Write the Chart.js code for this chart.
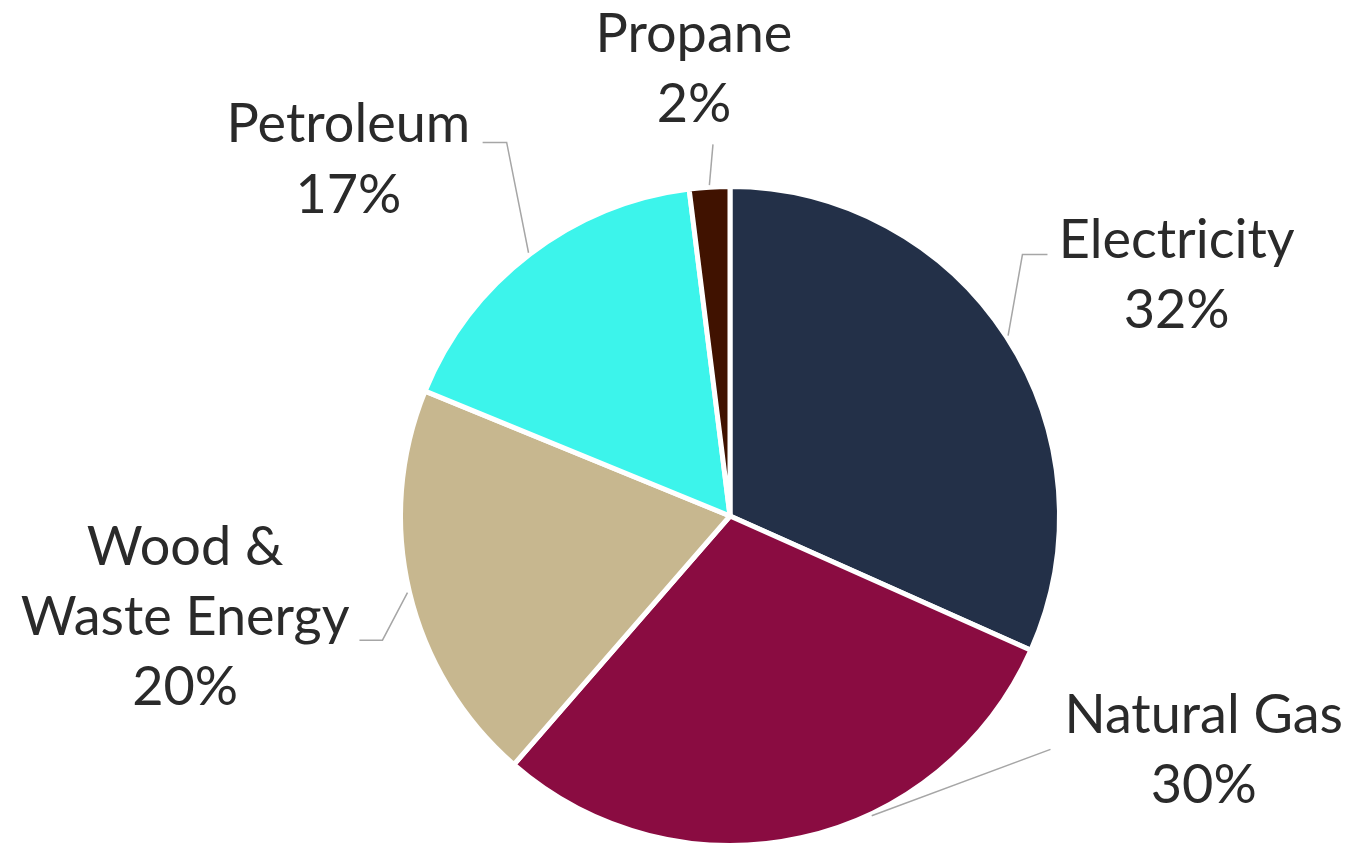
<!DOCTYPE html>
<html>
<head>
<meta charset="utf-8">
<script src="https://cdn.jsdelivr.net/npm/chart.js@4/dist/chart.umd.min.js"></script>
<style>
  html, body { margin: 0; padding: 0; background: #ffffff; }
  #wrap { width: 1358px; height: 850px; position: relative; }
</style>
</head>
<body>
<div id="wrap"><canvas id="pie"></canvas></div>
<script>
// Energy sources and their shares (percent)
const categories = ['Electricity', 'Natural Gas', 'Wood & Waste Energy', 'Petroleum', 'Propane'];
const shares = [32, 30, 20, 17, 2];
const sliceColors = ['#233048', '#8A0C41', '#C7B78F', '#3CF4EB', '#401200'];

// Label text lines for each slice (name split across lines + percent)
const labelLines = [
  ['Electricity'],
  ['Natural Gas'],
  ['Wood &', 'Waste Energy'],
  ['Petroleum'],
  ['Propane']
];

// Label placement relative to the pie centre, in pixels for a radius of 329.
// x: centre of the text block, y: baseline of the first line.
// leader: elbow points from the label towards the slice; at: fraction along the arc where the leader meets it.
const labelLayout = [
  { x: 446,  y: -258, leader: [[317, -261], [292, -261]], at: 0.5 },
  { x: 473,  y: 217,  leader: [[320, 233]], at: 0.38 },
  { x: -544, y: 49,   leader: [[-370, 124], [-347, 124]], at: 0.5 },
  { x: -381, y: -373, leader: [[-247, -373], [-223, -373]], at: 0.5 },
  { x: -36,  y: -463, leader: [[-17, -371]], at: 0.5 }
];

const FONT = '"Lato", "Open Sans", sans-serif';
const FONT_SIZE = 54;
const LINE_H = 70;

const calloutPlugin = {
  id: 'callouts',
  afterDatasetsDraw(chart) {
    const ctx = chart.ctx;
    const meta = chart.getDatasetMeta(0);
    ctx.save();
    meta.data.forEach((arc, i) => {
      const p = arc.getProps(['x', 'y', 'startAngle', 'endAngle', 'outerRadius'], true);
      const k = p.outerRadius / 329;
      const lay = labelLayout[i];
      const value = chart.data.datasets[0].data[i];

      // leader line: label elbow(s) -> point on the slice edge
      const a = p.startAngle + (p.endAngle - p.startAngle) * lay.at;
      const ex = p.x + Math.cos(a) * (p.outerRadius + 2);
      const ey = p.y + Math.sin(a) * (p.outerRadius + 2);
      ctx.beginPath();
      lay.leader.forEach((pt, j) => {
        const px = p.x + pt[0] * k, py = p.y + pt[1] * k;
        if (j === 0) ctx.moveTo(px, py); else ctx.lineTo(px, py);
      });
      ctx.lineTo(ex, ey);
      ctx.strokeStyle = '#a6a6a6';
      ctx.lineWidth = 1.5;
      ctx.stroke();

      // label text
      ctx.fillStyle = '#2a2a2a';
      ctx.font = FONT_SIZE + 'px ' + FONT;
      ctx.textAlign = 'center';
      ctx.textBaseline = 'alphabetic';
      const lines = labelLines[i].concat([value + '%']);
      lines.forEach((t, j) => {
        ctx.fillText(t, p.x + lay.x * k, p.y + lay.y * k + j * LINE_H * k);
      });
    });
    ctx.restore();
  }
};

new Chart(document.getElementById('pie'), {
  type: 'pie',
  data: {
    labels: categories,
    datasets: [{
      data: shares,
      backgroundColor: sliceColors,
      borderColor: '#ffffff',
      borderWidth: 5
    }]
  },
  options: {
    responsive: true,
    maintainAspectRatio: false,
    animation: false,
    layout: { padding: { top: 184, bottom: 2, left: 398, right: 296 } },
    plugins: {
      legend: { display: false },
      tooltip: { enabled: false }
    }
  },
  plugins: [calloutPlugin]
});
</script>
</body>
</html>
